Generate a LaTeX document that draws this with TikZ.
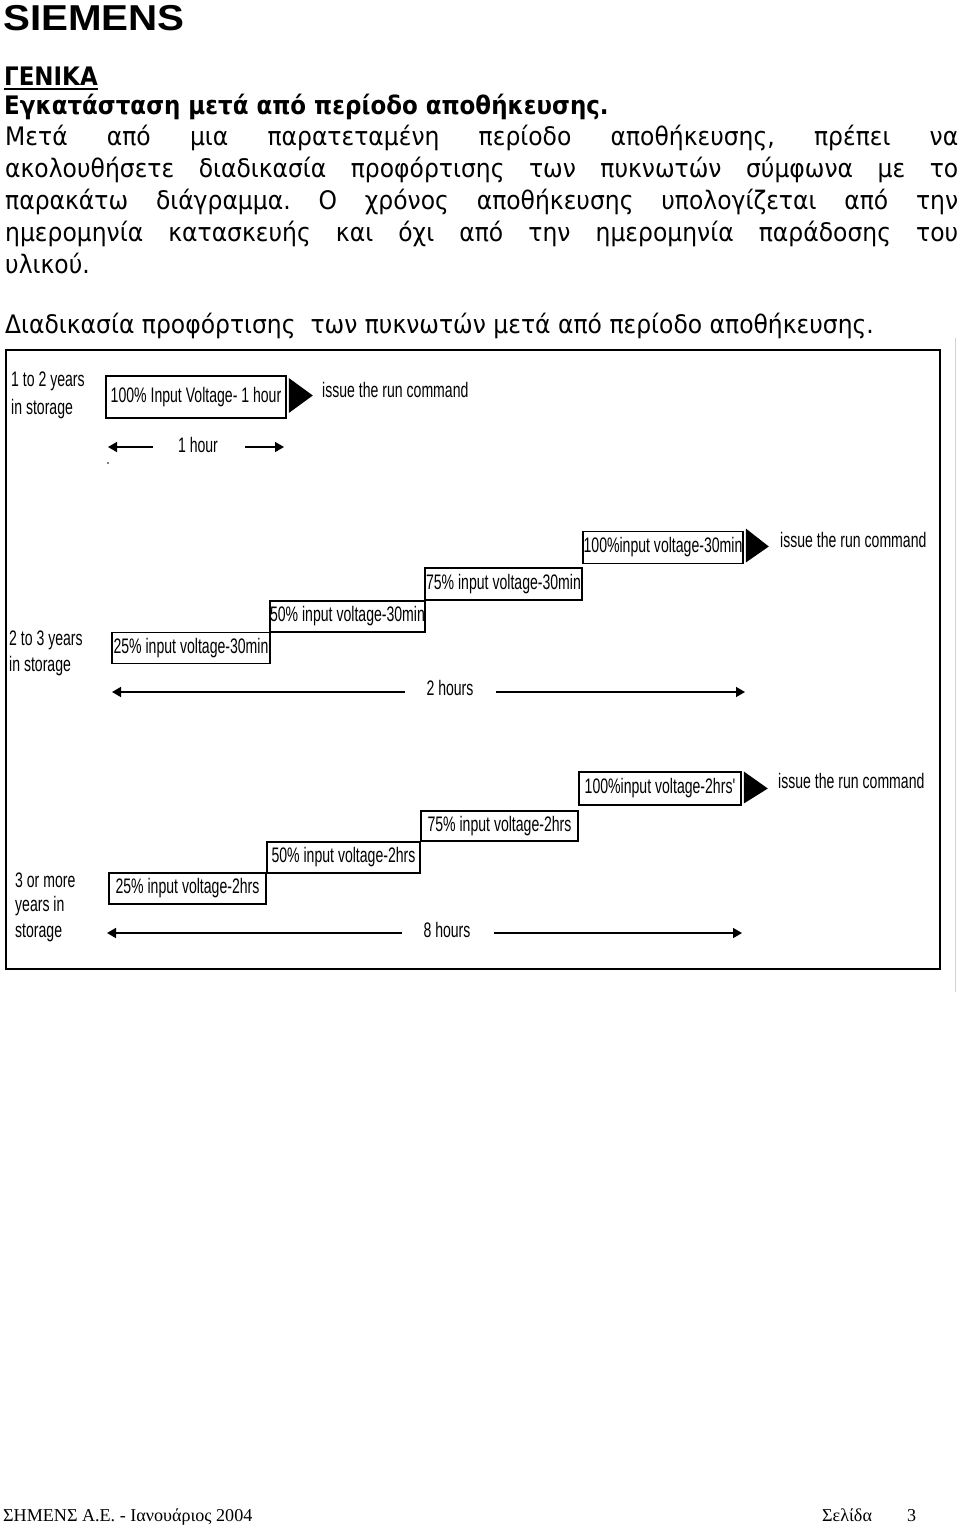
\documentclass[tikz,border=0pt]{standalone}
\usepackage{fontspec}
\setmainfont{DejaVu Sans}
\newfontfamily\bodyf[FakeStretch=0.92]{DejaVu Sans}
\newfontfamily\headf[FakeStretch=0.90]{DejaVu Sans}
\newfontfamily\logof[FakeStretch=1.12]{Liberation Sans}
\newfontfamily\narrowf[FakeStretch=0.67]{Liberation Sans}
\newfontfamily\footf{Liberation Serif}
\usetikzlibrary{arrows.meta}
\frenchspacing
\tikzset{
  bodytxt/.style={anchor=base west,inner sep=0pt,font=\bodyf\fontsize{25.5}{30}\selectfont},
  headtxt/.style={anchor=base west,inner sep=0pt,font=\headf\bfseries\fontsize{25.5}{30}\selectfont},
  lbl/.style={anchor=west,inner sep=0pt,font=\narrowf\fontsize{21}{24}\selectfont},
  vbox/.style={draw,line width=1.6pt,inner sep=0pt,font=\narrowf\fontsize{21}{24}\selectfont},
  tl/.style={line width=1.5pt,-{Triangle[length=9pt,width=10pt]}},
  tltxt/.style={inner sep=0pt,font=\narrowf\fontsize{21}{24}\selectfont},
  foot/.style={anchor=base west,inner sep=0pt,font=\footf\fontsize{18.1}{22}\selectfont},
}
\begin{document}
\begin{tikzpicture}[x=1pt,y=-1pt]
\useasboundingbox (0,0) rectangle (960,1526);
\fill[white] (0,0) rectangle (960,1526);
% header
\node[anchor=base west,inner sep=0pt,font=\logof\bfseries\fontsize{36}{40}\selectfont] (logo) at (3,30) {SIEMENS};
\node[headtxt] (gen) at (4,85) {ΓΕΝΙΚΑ};
\draw[line width=1.5pt] (gen.south west |- 0,89) -- (gen.south east |- 0,89);
\node[headtxt] (h2) at (4,114) {Εγκατάσταση μετά από περίοδο αποθήκευσης.};
% body
\node[bodytxt] (p1) at (5,145) {\makebox[953pt][s]{Μετά από μια παρατεταμένη περίοδο αποθήκευσης, πρέπει να}};
\node[bodytxt] (p2) at (5,177) {\makebox[953pt][s]{ακολουθήσετε διαδικασία προφόρτισης των πυκνωτών σύμφωνα με το}};
\node[bodytxt] (p3) at (5,209) {\makebox[953pt][s]{παρακάτω διάγραμμα. Ο χρόνος αποθήκευσης υπολογίζεται από την}};
\node[bodytxt] (p4) at (5,241) {\makebox[953pt][s]{ημερομηνία κατασκευής και όχι από την ημερομηνία παράδοσης του}};
\node[bodytxt] (p5) at (5,273) {υλικού.};
\node[bodytxt] (cap) at (5,333) {Διαδικασία προφόρτισης\ \ των πυκνωτών μετά από περίοδο αποθήκευσης.};
% frame
\draw[gray!35,line width=1pt] (955,338) -- (955,992);
\draw[line width=1.6pt] (6,350) rectangle (940,969);
\draw[line width=2.2pt] (6,969) -- (940,969);
% row 1
\node[lbl] (r1a) at (11,381) {1 to 2 years};
\node[lbl] (r1b) at (11,409) {in storage};
\node[vbox,minimum width=180pt,minimum height=42pt] (b1) at (196,397) {100\% Input Voltage- 1 hour};
\fill ([xshift=2pt,yshift=19pt]b1.east) -- ([xshift=2pt,yshift=-16pt]b1.east) -- ([xshift=26pt,yshift=1.5pt]b1.east) -- cycle;
\node[lbl] (run1) at (322,390) {issue the run command};
\node[tltxt] (h1) at (198,445) {1 hour};
\coordinate (h1l) at (108,447);
\coordinate (h1r) at (284,447);
\draw[tl] (153,447) -- (h1l);
\draw[tl] (245,447) -- (h1r);
\fill (108,463) circle (0.9pt);
% row 2
\node[lbl] (r2a) at (9,640) {2 to 3 years};
\node[lbl] (r2b) at (9,666) {in storage};
\node[vbox,minimum width=158pt,minimum height=31pt] (c1) at (191,648) {25\% input voltage-30min};
\node[vbox,minimum width=155pt,minimum height=31pt] (c2) at (347.5,616.5) {50\% input voltage-30min};
\node[vbox,minimum width=157pt,minimum height=32pt] (c3) at (503.5,584) {75\% input voltage-30min};
\node[vbox,minimum width=160pt,minimum height=32pt] (c4) at (663,547.5) {100\%input voltage-30min};
\fill ([xshift=2pt,yshift=19pt]c4.east) -- ([xshift=2pt,yshift=-15pt]c4.east) -- ([xshift=25pt,yshift=1pt]c4.east) -- cycle;
\node[lbl] (run2) at (780,540) {issue the run command};
\node[tltxt] (h2t) at (450,688) {2 hours};
\coordinate (h2l) at (112,692);
\coordinate (h2r) at (745,692);
\draw[tl] (405,692) -- (h2l);
\draw[tl] (496,692) -- (h2r);
% row 3
\node[lbl] (r3a) at (15,880) {3 or more};
\node[lbl] (r3b) at (15,906) {years in};
\node[lbl] (r3c) at (15,933) {storage};
\node[vbox,minimum width=157pt,minimum height=31pt] (d1) at (187.5,888.5) {25\% input voltage-2hrs};
\node[vbox,minimum width=153pt,minimum height=31pt] (d2) at (343.5,857.5) {50\% input voltage-2hrs};
\node[vbox,minimum width=157pt,minimum height=30pt] (d3) at (499.5,826) {75\% input voltage-2hrs};
\node[vbox,minimum width=162pt,minimum height=33pt] (d4) at (660,788.5) {100\%input voltage-2hrs'};
\fill ([xshift=2pt,yshift=17pt]d4.east) -- ([xshift=2pt,yshift=-15pt]d4.east) -- ([xshift=26pt,yshift=0pt]d4.east) -- cycle;
\node[lbl] (run3) at (778,781) {issue the run command};
\node[tltxt] (h3t) at (447,930) {8 hours};
\coordinate (h3l) at (107,933);
\coordinate (h3r) at (742,933);
\draw[tl] (402,933) -- (h3l);
\draw[tl] (494,933) -- (h3r);
% footer
\node[foot] (f1) at (3,1521) {ΣΗΜΕΝΣ Α.Ε. - Ιανουάριος 2004};
\node[foot] (f2) at (822,1521) {Σελίδα};
\node[foot] (f3) at (907,1521) {3};
\end{tikzpicture}
\end{document}
